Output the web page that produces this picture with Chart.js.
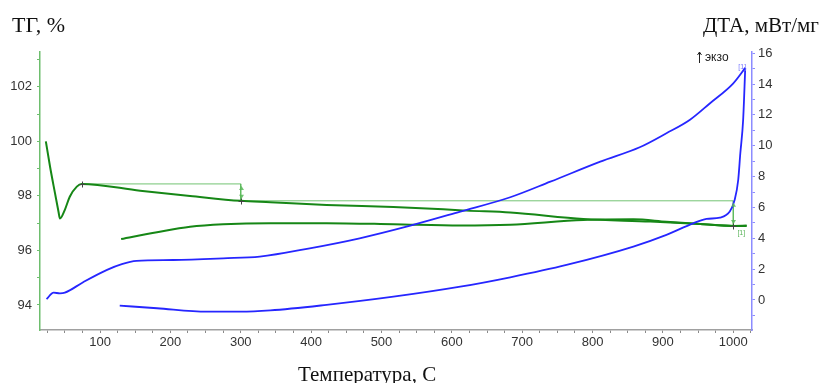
<!DOCTYPE html>
<html>
<head>
<meta charset="utf-8">
<script src="https://cdn.jsdelivr.net/npm/chart.js@4"></script>
<style>
  html, body { margin: 0; padding: 0; background: #fff; }
  canvas { display: block; }
</style>
</head>
<body>
<canvas id="c" width="826" height="383"></canvas>
<script>
// TG, % — first run
const tgTemp = [23, 29, 36, 41, 43, 50, 57, 67, 74, 157, 228, 300, 342, 422, 517, 588, 621, 683, 787, 882, 953, 1000, 1019];
const tgMass = [100.0, 99.07, 98.10, 97.42, 97.17, 97.49, 97.97, 98.34, 98.44, 98.19, 98.0, 97.82, 97.77, 97.67, 97.59, 97.51, 97.46, 97.39, 97.15, 97.06, 96.97, 96.90, 96.91];

// TG, % — second run
const tg2Temp = [130, 181, 228, 275, 342, 422, 517, 612, 683, 787, 858, 905, 953, 1000, 1019];
const tg2Mass = [96.42, 96.67, 96.87, 96.96, 97.0, 97.0, 96.96, 96.91, 96.94, 97.12, 97.14, 97.05, 96.97, 96.90, 96.90];

// ДТА, мВт/мг — first run
const dtaTemp = [24, 34, 43, 50, 76, 110, 131, 152, 204, 275, 327, 398, 469, 541, 612, 683, 740, 811, 867, 905, 938, 967, 1000, 1017];
const dtaVal  = [0.05, 0.47, 0.43, 0.47, 1.15, 1.95, 2.32, 2.53, 2.59, 2.70, 2.81, 3.35, 4.0, 4.82, 5.73, 6.66, 7.67, 8.97, 9.9, 10.81, 11.67, 12.76, 14.05, 15.05];

// ДТА, мВт/мг — second run
const dta2Temp = [128, 181, 252, 299, 342, 422, 517, 612, 683, 763, 858, 905, 943, 962, 981, 995, 1002, 1007, 1010, 1014, 1017];
const dta2Val  = [-0.37, -0.54, -0.76, -0.76, -0.68, -0.32, 0.21, 0.86, 1.47, 2.27, 3.46, 4.22, 4.97, 5.25, 5.34, 5.73, 6.49, 7.78, 9.51, 11.67, 15.05];

// Mass-loss steps: start of each step and level reached
const stepTemp = [74, 300, 1000];
const stepMass = [98.44, 97.82, 96.90];

// Axis ticks (labelled ones only get text)
const xTicks = [];
for (let t = 25; t <= 1025; t += 25) xTicks.push(t);
const xLabels = [100, 200, 300, 400, 500, 600, 700, 800, 900, 1000];
const tgTicks = [94, 95, 96, 97, 98, 99, 100, 101, 102, 103];
const tgLabels = [94, 96, 98, 100, 102];
const dtaTicks = [-1, 0, 1, 2, 3, 4, 5, 6, 7, 8, 9, 10, 11, 12, 13, 14, 15, 16];
const dtaLabels = [0, 2, 4, 6, 8, 10, 12, 14, 16];

const pts = (xs, ys) => xs.map((x, i) => ({ x: x, y: ys[i] }));

const stepPath = [];
for (let i = 0; i < stepTemp.length - 1; i++) {
  stepPath.push({ x: stepTemp[i], y: stepMass[i] });
  stepPath.push({ x: stepTemp[i + 1], y: stepMass[i] });
  stepPath.push({ x: stepTemp[i + 1], y: stepMass[i + 1] });
}

const GREEN = 'rgb(22,135,22)';
const BLUE = 'rgb(38,38,255)';
const LIGHT_GREEN = 'rgba(90,185,90,0.85)';
const TICK_FONT = { family: '"Liberation Sans", Arial, sans-serif', size: 13 };

function fixedTicks(values) {
  return function (scale) { scale.ticks = values.map(v => ({ value: v })); };
}

const overlay = {
  id: 'overlay',
  afterDatasetsDraw(chart) {
    const ctx = chart.ctx;
    const xs = chart.scales.x, ys = chart.scales.yTG, yd = chart.scales.yDTA;
    ctx.save();

    // arrows on the vertical parts of the step marks
    ctx.strokeStyle = LIGHT_GREEN;
    ctx.fillStyle = LIGHT_GREEN;
    ctx.lineWidth = 1;
    for (let i = 1; i < stepTemp.length; i++) {
      const px = Math.round(xs.getPixelForValue(stepTemp[i])) + 0.5;
      const y1 = ys.getPixelForValue(stepMass[i - 1]);
      const y2 = ys.getPixelForValue(stepMass[i]);
      const drawHead = (y, dir) => {
        ctx.beginPath();
        ctx.moveTo(px, y);
        ctx.lineTo(px - 2.5, y - dir * 4);
        ctx.lineTo(px + 2.5, y - dir * 4);
        ctx.closePath();
        ctx.fill();
      };
      drawHead(y1 + 2, -1);
      drawHead(y2 - 2, 1);
    }

    // cross markers at step ends
    ctx.strokeStyle = '#444';
    ctx.lineWidth = 1;
    stepTemp.forEach((t, i) => {
      const px = Math.round(xs.getPixelForValue(t)) + 0.5;
      const py = Math.round(ys.getPixelForValue(stepMass[i])) + 0.5;
      ctx.beginPath();
      ctx.moveTo(px - 3, py); ctx.lineTo(px + 3, py);
      ctx.moveTo(px, py - 3); ctx.lineTo(px, py + 3);
      ctx.stroke();
    });

    // small curve tags
    ctx.font = '7px "Liberation Sans", Arial, sans-serif';
    ctx.textAlign = 'center';
    ctx.textBaseline = 'middle';
    ctx.fillStyle = 'rgb(120,120,255)';
    ctx.fillText('[1]', xs.getPixelForValue(dtaTemp[dtaTemp.length - 1]) - 3, yd.getPixelForValue(dtaVal[dtaVal.length - 1]) - 1);
    ctx.fillStyle = 'rgb(90,180,90)';
    ctx.fillText('[1]', xs.getPixelForValue(stepTemp[2]) + 8, ys.getPixelForValue(stepMass[2]) + 7.5);

    // exotherm direction
    ctx.fillStyle = '#222';
    ctx.font = '12px "Liberation Sans", Arial, sans-serif';
    ctx.textAlign = 'left';
    ctx.textBaseline = 'alphabetic';
    ctx.fillText('экзо', 705, 61);
    ctx.strokeStyle = '#222';
    ctx.beginPath();
    ctx.moveTo(699.5, 63); ctx.lineTo(699.5, 52);
    ctx.moveTo(697.5, 55); ctx.lineTo(699.5, 52); ctx.lineTo(701.5, 55);
    ctx.stroke();

    // axis titles
    ctx.fillStyle = '#111';
    ctx.font = '22px "Liberation Serif", "Times New Roman", serif';
    ctx.fillText('ТГ, %', 12, 32, 55);
    ctx.font = '21px "Liberation Serif", "Times New Roman", serif';
    ctx.fillText('ДТА, мВт/мг', 703, 32, 121);
    ctx.fillText('Температура, С', 298, 381, 146);
    ctx.restore();
  }
};

new Chart(document.getElementById('c'), {
  type: 'line',
  data: {
    datasets: [
      { data: pts(tgTemp, tgMass), yAxisID: 'yTG', borderColor: GREEN, borderWidth: 2, order: 1 },
      { data: pts(tg2Temp, tg2Mass), yAxisID: 'yTG', borderColor: GREEN, borderWidth: 2, order: 1 },
      { data: pts(dtaTemp, dtaVal), yAxisID: 'yDTA', borderColor: BLUE, borderWidth: 1.8, order: 0 },
      { data: pts(dta2Temp, dta2Val), yAxisID: 'yDTA', borderColor: BLUE, borderWidth: 1.8, order: 0 },
      { data: stepPath, yAxisID: 'yTG', borderColor: LIGHT_GREEN, borderWidth: 1, tension: 0, cubicInterpolationMode: 'default', order: 5 }
    ]
  },
  options: {
    responsive: false,
    animation: false,
    devicePixelRatio: 1,
    layout: { padding: { top: 52, left: 0, right: 0, bottom: 0 } },
    elements: {
      point: { radius: 0, hoverRadius: 0 },
      line: { cubicInterpolationMode: 'monotone', fill: false }
    },
    plugins: { legend: { display: false }, tooltip: { enabled: false }, title: { display: false } },
    scales: {
      x: {
        type: 'linear',
        min: 14.7,
        max: 1026.6,
        afterBuildTicks: fixedTicks(xTicks),
        afterFit: s => { s.height = 53; },
        border: { display: true, color: '#a0a0a0', width: 1.5 },
        grid: { drawOnChartArea: false, drawTicks: true, tickLength: 3, color: '#8a8a8a' },
        ticks: {
          autoSkip: false, maxRotation: 0, padding: 2,
          color: '#333', font: TICK_FONT,
          callback: v => (xLabels.includes(v) ? String(v) : '')
        }
      },
      yTG: {
        type: 'linear',
        position: 'left',
        min: 93.08,
        max: 103.28,
        afterBuildTicks: fixedTicks(tgTicks),
        afterFit: s => { s.width = 40; },
        border: { display: true, color: 'rgb(110,190,110)', width: 1.5 },
        grid: { drawOnChartArea: false, drawTicks: true, tickLength: 3, color: 'rgb(110,190,110)' },
        ticks: {
          autoSkip: false, padding: 5,
          color: '#333', font: TICK_FONT,
          callback: v => (tgLabels.includes(v) ? String(v) : '')
        }
      },
      yDTA: {
        type: 'linear',
        position: 'right',
        min: -1.95,
        max: 16.08,
        afterBuildTicks: fixedTicks(dtaTicks),
        afterFit: s => { s.width = 74; },
        border: { display: true, color: 'rgb(140,140,255)', width: 1.5 },
        grid: { drawOnChartArea: false, drawTicks: true, tickLength: 3, color: 'rgb(140,140,255)' },
        ticks: {
          autoSkip: false, padding: 3,
          color: '#333', font: TICK_FONT,
          callback: v => (dtaLabels.includes(v) ? String(v) : '')
        }
      }
    }
  },
  plugins: [overlay]
});
</script>
</body>
</html>
